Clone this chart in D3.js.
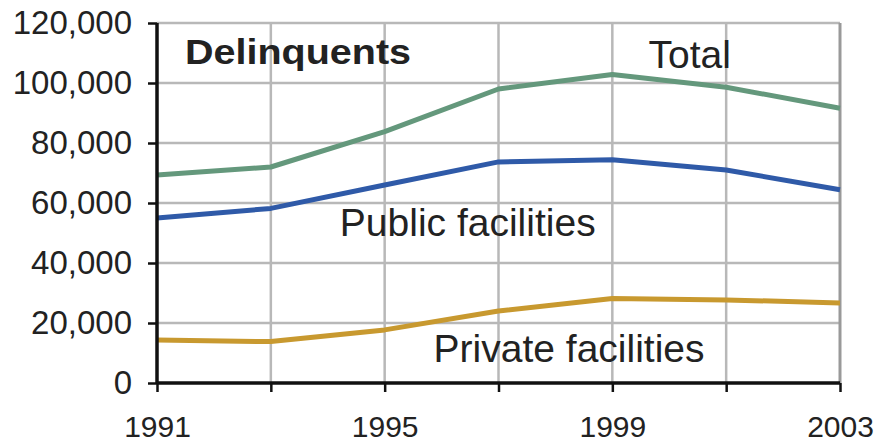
<!DOCTYPE html>
<html>
<head>
<meta charset="utf-8">
<script src="https://cdn.jsdelivr.net/npm/d3@7"></script>
<style>
  body { margin: 0; background: #fff; }
  svg { display: block; font-family: "Liberation Sans", Arial, sans-serif; }
</style>
</head>
<body>
<div id="chart"></div>
<script>
const years = [1991, 1993, 1995, 1997, 1999, 2001, 2003];
const total = [69300, 72000, 83800, 98000, 102800, 98600, 91600];
const publicFac = [55000, 58200, 66000, 73700, 74400, 71000, 64400];
const privateFac = [14300, 13800, 17700, 24000, 28200, 27700, 26700];
const yTicks = [0, 20000, 40000, 60000, 80000, 100000, 120000];
const xLabels = [1991, 1995, 1999, 2003];

const width = 881, height = 444;
const margin = { top: 23, right: 41, bottom: 61, left: 157 };

const svg = d3.select('#chart').append('svg')
  .attr('width', width)
  .attr('height', height);

const x = d3.scaleLinear()
  .domain([1991, 2003])
  .range([margin.left, width - margin.right]);

const y = d3.scaleLinear()
  .domain([0, 120000])
  .range([height - margin.bottom, margin.top]);

// grid
const grid = svg.append('g')
  .attr('stroke', '#b8b8b8')
  .attr('stroke-width', 2.5);

grid.selectAll('.gy')
  .data(yTicks.slice(1))
  .join('line')
  .attr('x1', x(1991)).attr('x2', x(2003))
  .attr('y1', d => y(d)).attr('y2', d => y(d));

grid.selectAll('.gx')
  .data(years.slice(1))
  .join('line')
  .attr('x1', d => x(d)).attr('x2', d => x(d))
  .attr('y1', y(0)).attr('y2', y(120000))
  .attr('stroke', d => d === 2003 ? '#999' : '#b8b8b8')
  .attr('stroke-width', d => d === 2003 ? 3 : 2.5);

// lines
const series = [
  { name: 'Total', values: total, color: '#64987c' },
  { name: 'Public facilities', values: publicFac, color: '#2f5aa8' },
  { name: 'Private facilities', values: privateFac, color: '#c8992f' }
];

const line = d3.line()
  .x((d, i) => x(years[i]))
  .y(d => y(d));

svg.append('g')
  .selectAll('path')
  .data(series)
  .join('path')
  .attr('d', d => line(d.values))
  .attr('fill', 'none')
  .attr('stroke', d => d.color)
  .attr('stroke-width', 5)
  .attr('stroke-linejoin', 'round');

// axes
const yAxis = svg.append('g')
  .attr('transform', `translate(${margin.left},0)`)
  .call(d3.axisLeft(y).tickValues(yTicks).tickFormat(d3.format(',')).tickSize(9).tickPadding(16));

const xAxis = svg.append('g')
  .attr('transform', `translate(0,${height - margin.bottom})`)
  .call(d3.axisBottom(x).tickValues(years)
    .tickFormat(d => xLabels.includes(d) ? d : '')
    .tickSize(9).tickPadding(24));

[yAxis, xAxis].forEach(a => {
  a.select('.domain').attr('stroke', '#111').attr('stroke-width', 3.5);
  a.selectAll('.tick line').attr('stroke', '#111').attr('stroke-width', 2.5);
  a.selectAll('text').attr('fill', '#222')
    .style('font-family', '"Liberation Sans", Arial, sans-serif');
});
yAxis.select('.domain').attr('d', `M0,${y(120000)}V${y(0)}`);
xAxis.select('.domain').attr('d', `M${x(1991)},0H${x(2003)}`);
yAxis.selectAll('text').style('font-size', '33px');
xAxis.selectAll('text').style('font-size', '30px');

// labels
svg.append('text')
  .attr('x', 185).attr('y', 64)
  .attr('textLength', 226)
  .attr('lengthAdjust', 'spacingAndGlyphs')
  .attr('fill', '#222')
  .style('font-size', '35px')
  .style('font-weight', 'bold')
  .text('Delinquents');

const labels = [
  { text: 'Total', x: 2000.36, v: 105000 },
  { text: 'Public facilities', x: 1996.46, v: 49000 },
  { text: 'Private facilities', x: 1998.24, v: 7000 }
];

svg.append('g')
  .selectAll('text')
  .data(labels)
  .join('text')
  .attr('x', d => x(d.x))
  .attr('y', d => y(d.v))
  .attr('text-anchor', 'middle')
  .attr('fill', '#222')
  .style('font-size', '39px')
  .text(d => d.text);
</script>
</body>
</html>
